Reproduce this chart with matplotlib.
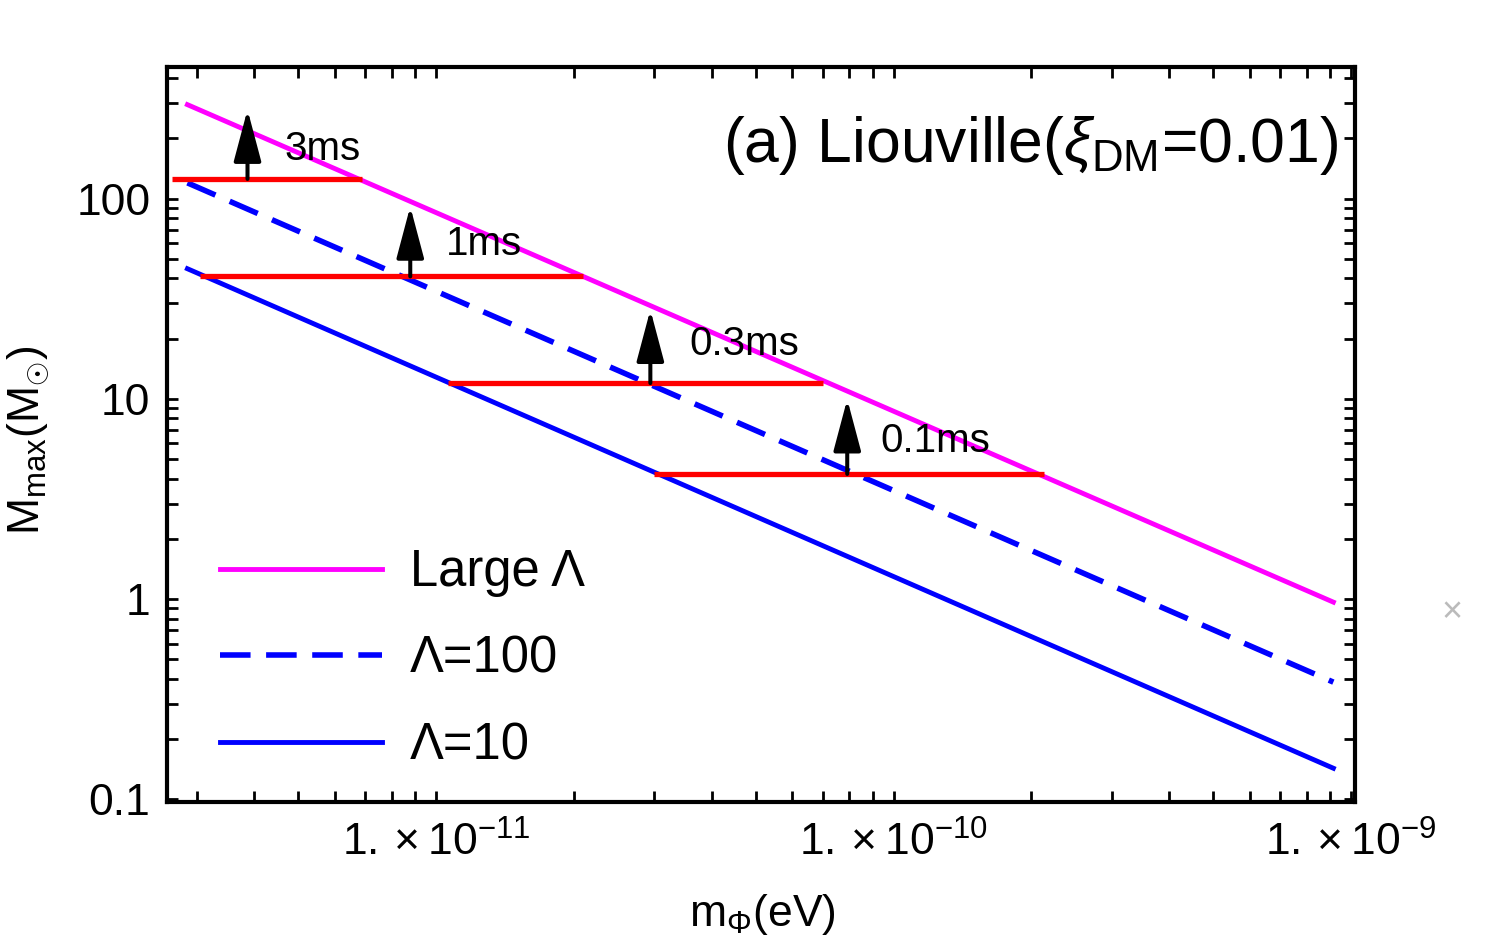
import numpy as np
import matplotlib
matplotlib.use("Agg")
import matplotlib.pyplot as plt
from matplotlib.ticker import LogLocator, NullFormatter

plt.rcParams['font.family'] = ['Liberation Sans', 'DejaVu Sans']
plt.rcParams['mathtext.fontset'] = 'custom'
plt.rcParams['mathtext.rm'] = 'Liberation Sans'
plt.rcParams['mathtext.it'] = 'Liberation Sans:italic'
plt.rcParams['mathtext.bf'] = 'Liberation Sans:bold'
plt.rcParams['mathtext.sf'] = 'Liberation Sans'

# curves (straight lines on log-log axes): end points
m_ends = [2.86e-12, 9.15e-10]
M_large = [295.0, 0.966]
M_lam100 = [120.0, 0.385]
M_lam10 = [44.7, 0.143]
curve_labels = ['Large Λ', 'Λ=100', 'Λ=10']

# time-scale bars
t_labels = ['3ms', '1ms', '0.3ms', '0.1ms']
bar_M = [125.5, 40.9, 12.0, 4.22]
bar_m_lo = [2.65e-12, 3.04e-12, 1.06e-11, 3.0e-11]
bar_m_hi = [6.90e-12, 2.09e-11, 7.0e-11, 2.13e-10]
arrow_m = [3.87e-12, 8.78e-12, 2.94e-11, 7.92e-11]
arrow_tip = [278.6, 91.5, 27.9, 9.97]
label_m = [4.67e-12, 1.052e-11, 3.57e-11, 9.36e-11]
label_M = [156.7, 52.5, 16.6, 5.45]

xticks = [1e-11, 1e-10, 1e-9]
xtick_labels = [r'$1.\times10^{-11}$', r'$1.\times10^{-10}$', r'$1.\times10^{-9}$']
yticks = [0.1, 1, 10, 100]
ytick_labels = ['0.1', '1', '10', '100']

fig = plt.figure(figsize=(15, 9.5), dpi=100)
ax = fig.add_axes([0.1113, 0.1558, 0.792, 0.7737])

ax.plot(m_ends, M_large, color='#ff00ff', lw=3.5, label=curve_labels[0])
ax.plot(m_ends, M_lam100, color='#0000ff', lw=4, dashes=(5.5, 2.8), label=curve_labels[1])
ax.plot(m_ends, M_lam10, color='#0000ff', lw=3.5, label=curve_labels[2])

for i in range(len(t_labels)):
    ax.plot([bar_m_lo[i], bar_m_hi[i]], [bar_M[i], bar_M[i]], color='#ff0000', lw=3.8,
            solid_capstyle='butt')
    ax.annotate('', xy=(arrow_m[i], arrow_tip[i]), xytext=(arrow_m[i], bar_M[i]),
                arrowprops=dict(arrowstyle='-|>,head_length=3.2,head_width=0.85',
                                color='black', lw=2.9, mutation_scale=10,
                                shrinkA=0, shrinkB=0))
    ax.text(label_m[i], label_M[i], t_labels[i], fontsize=29, ha='left', va='baseline')

ax.set_xscale('log')
ax.set_yscale('log')
ax.set_xlim(2.58e-12, 1.02e-9)
ax.set_ylim(0.097, 455)

ax.set_xticks(xticks, labels=xtick_labels)
ax.set_yticks(yticks, labels=ytick_labels)
ax.xaxis.set_minor_locator(LogLocator(base=10, subs=np.arange(2, 10), numticks=30))
ax.yaxis.set_minor_locator(LogLocator(base=10, subs=np.arange(2, 10), numticks=30))
ax.xaxis.set_minor_formatter(NullFormatter())
ax.yaxis.set_minor_formatter(NullFormatter())
ax.tick_params(which='both', direction='in', top=True, right=True, length=8, width=2,
               labelsize=32)
ax.tick_params(axis='x', which='major', pad=14)
ax.tick_params(axis='y', which='major', pad=12)
for s in ax.spines.values():
    s.set_linewidth(3)

ax.set_xlabel(r'$\mathrm{m}_{\Phi}$(eV)', fontsize=32)
ax.xaxis.set_label_coords(0.5008, -0.122)
ax.set_ylabel(r'$\mathrm{M}_{\mathrm{max}}(\mathrm{M}_{\odot})$', fontsize=32)
ax.yaxis.set_label_coords(-0.097, 0.4925)

ax.text(0.9857, 0.8707, r'(a) Liouville($\xi_{\mathrm{DM}}$=0.01)', fontsize=45,
        ha='right', va='baseline', transform=ax.transAxes)

ax.legend(loc='lower left', bbox_to_anchor=(0.0446, 0.043), frameon=False, fontsize=36.5,
          handlelength=3.2, handletextpad=0.55, labelspacing=0.74, borderpad=0,
          borderaxespad=0)

fig.text(0.968, 1 - 613 / 950, '×', color='#bbbbbb', fontsize=26, ha='center', va='center')

fig.savefig('out.png', dpi=100)
